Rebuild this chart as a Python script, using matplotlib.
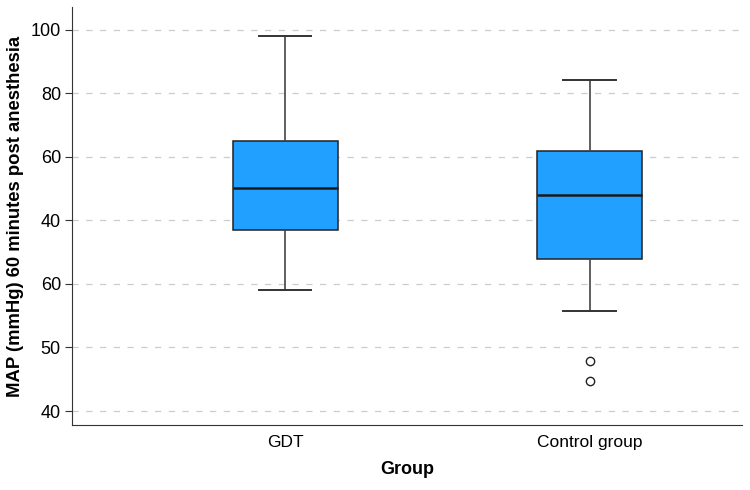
import matplotlib.pyplot as plt

plt.rcParams['font.family'] = ['Liberation Sans', 'DejaVu Sans']

# summary values (axis units 40..100, step 10)
groups = ['GDT', 'Control group']
whisker_low = [59.1, 55.8]
q1 = [68.5, 63.9]
median = [75.1, 74.0]
q3 = [82.5, 80.9]
whisker_high = [99.1, 92.1]
outliers = [[], [47.9, 44.7]]

tick_pos = [40, 50, 60, 70, 80, 90, 100]
tick_labels = ['40', '50', '60', '40', '60', '80', '100']

stats = []
for i in range(len(groups)):
    stats.append(dict(label=groups[i], whislo=whisker_low[i], q1=q1[i], med=median[i],
                      q3=q3[i], whishi=whisker_high[i], fliers=outliers[i]))

fig = plt.figure(figsize=(7.5, 4.9), dpi=100)
ax = fig.add_axes([72 / 750, 1 - 425 / 490, 670 / 750, 418 / 490])

ax.bxp(stats, positions=[1, 2], widths=0.345, patch_artist=True, showfliers=True,
       boxprops=dict(facecolor='#22A0FF', edgecolor='#222222', linewidth=1.1),
       medianprops=dict(color='#1a1a1a', linewidth=1.8),
       whiskerprops=dict(color='#444444', linewidth=1.2),
       capprops=dict(color='#333333', linewidth=1.4),
       flierprops=dict(marker='o', markerfacecolor='white', markeredgecolor='#222222',
                       markersize=6, markeredgewidth=1.0),
       zorder=3)

ax.set_xlim(0.30, 2.50)
ax.set_ylim(37.8, 103.6)
ax.set_yticks(tick_pos)
ax.set_yticklabels(tick_labels)
ax.grid(axis='y', linestyle=(0, (5, 6)), color='#cccccc', linewidth=0.9, zorder=0)
ax.set_axisbelow(True)

for s in ['top', 'right']:
    ax.spines[s].set_visible(False)
ax.spines['left'].set_color('#333333')
ax.spines['bottom'].set_color('#333333')
ax.tick_params(axis='y', labelsize=13, length=5, color='#333333', pad=3)
ax.tick_params(axis='x', labelsize=12.5, length=0, pad=7)

ax.set_ylabel('MAP (mmHg) 60 minutes post anesthesia', fontsize=13.3, fontweight='bold', labelpad=5)
ax.set_xlabel('Group', fontsize=13, fontweight='bold', labelpad=8)

fig.savefig('out.png', dpi=100)
